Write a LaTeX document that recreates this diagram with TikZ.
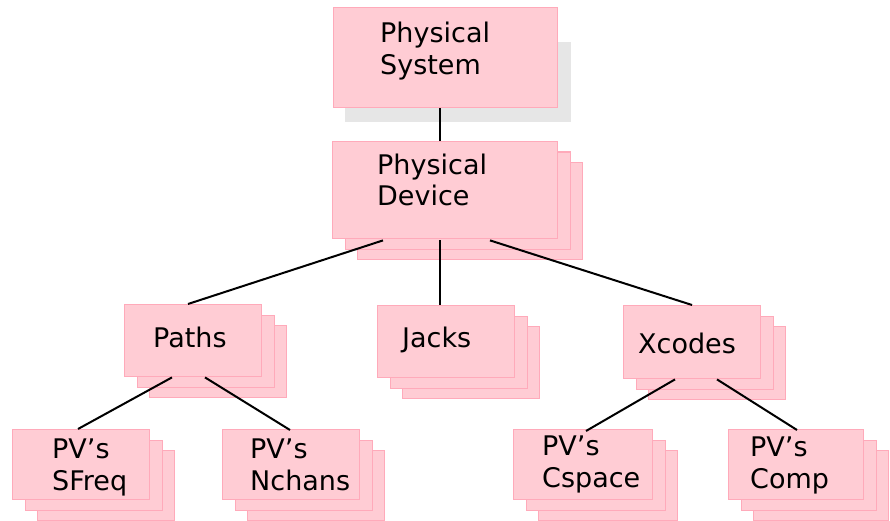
\documentclass[tikz,border=0pt]{standalone}
\usepackage{fontspec}
\setmainfont{DejaVu Sans}
\usetikzlibrary{calc,shadows}
\definecolor{cardfill}{RGB}{255,204,212}
\definecolor{cardline}{RGB}{255,170,186}
\definecolor{shadowgray}{RGB}{230,230,230}
\pgfdeclarelayer{background}
\pgfsetlayers{background,main}
\begin{document}
\begin{tikzpicture}[x=1pt,y=-1pt,
  card/.style={draw=cardline, fill=cardfill, line width=1.4pt, anchor=north west,
    inner sep=0pt, minimum width=137pt, minimum height=72pt},
  stacked/.style={
    copy shadow={shadow xshift=25pt, shadow yshift=-21pt, draw=cardline, fill=cardfill, line width=1.4pt},
    copy shadow={shadow xshift=12.5pt, shadow yshift=-10.5pt, draw=cardline, fill=cardfill, line width=1.4pt}},
  cardtext/.style={font=\fontsize{27}{32}\selectfont, anchor=base west, align=left, inner sep=0pt},
  link/.style={draw=black, line width=2pt}
]
\useasboundingbox (0,0) rectangle (890,521);

% top level (the base anchor of a two-line text is its last baseline)
\node[card, minimum width=224pt, minimum height=100pt] (sys) at (333,7) {};
\begin{pgfonlayer}{background}
  \fill[shadowgray] ($(sys.north west)+(12,35)$) rectangle ($(sys.south east)+(13,14)$);
\end{pgfonlayer}
\node[cardtext] (systxt) at (380,75) {Physical\\System};

% device level
\node[card, stacked, minimum width=225pt, minimum height=97pt] (dev) at (332,141) {};
\node[cardtext] (devtxt) at (377,206) {Physical\\Device};

% middle level
\node[card, stacked] (paths) at (124,304) {};
\node[cardtext] (pathstxt) at (153,347) {Paths};
\node[card, stacked] (jacks) at (377,305) {};
\node[cardtext] (jackstxt) at (402,347) {Jacks};
\node[card, stacked, minimum height=73pt] (xcodes) at (623,305) {};
\node[cardtext] (xcodestxt) at (638,353) {Xcodes};

% bottom level
\node[card, stacked, minimum height=70pt] (sfreq) at (12,429) {};
\node[cardtext] (sfreqtxt) at (52,490) {PV’s\\SFreq};
\node[card, stacked, minimum height=70pt] (nchans) at (222,429) {};
\node[cardtext] (nchanstxt) at (250,490) {PV’s\\Nchans};
\node[card, stacked, minimum width=139pt, minimum height=70pt] (cspace) at (513,429) {};
\node[cardtext] (cspacetxt) at (542,487) {PV’s\\Cspace};
\node[card, stacked, minimum width=135pt, minimum height=70pt] (comp) at (728,429) {};
\node[cardtext] (comptxt) at (750,488) {PV’s\\Comp};

% connectors
\draw[link] ($(sys.south west)+(107,0)$) -- ($(dev.north west)+(108,0)$);
\draw[link] ($(dev.south west)+(51,1)$) -- ($(paths.north west)+(64,0)$);
\draw[link] ($(dev.south west)+(108,1)$) -- ($(jacks.north west)+(63,0)$);
\draw[link] ($(dev.south west)+(158,1)$) -- ($(xcodes.north west)+(69,0)$);
\draw[link] ($(paths.south west)+(48,0)$) -- ($(sfreq.north west)+(66,0)$);
\draw[link] ($(paths.south west)+(81,0)$) -- ($(nchans.north west)+(68,1)$);
\draw[link] ($(xcodes.south west)+(52,0)$) -- ($(cspace.north west)+(73,2)$);
\draw[link] ($(xcodes.south west)+(94,0)$) -- ($(comp.north west)+(69,1)$);
\end{tikzpicture}
\end{document}
